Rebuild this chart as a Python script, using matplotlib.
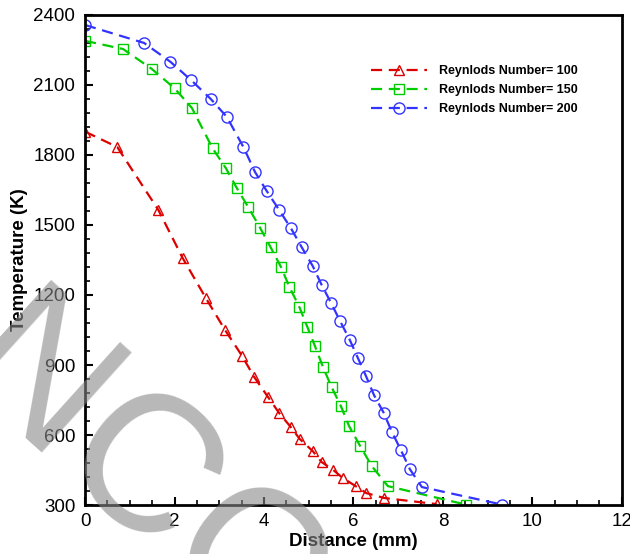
import matplotlib
matplotlib.use('Agg')
import matplotlib.pyplot as plt
from matplotlib.ticker import MultipleLocator

plt.rcParams['font.family'] = ['Liberation Sans', 'DejaVu Sans']

# Reynolds 100
x_re100 = [0, 0.72, 1.64, 2.18, 2.70, 3.13, 3.51, 3.78, 4.09, 4.34, 4.60, 4.80,
           5.09, 5.29, 5.55, 5.76, 6.05, 6.29, 6.69, 7.86]
t_re100 = [1900, 1834, 1564, 1359, 1187, 1050, 939, 849, 763, 694, 634, 583,
           531, 484, 450, 416, 381, 351, 330, 304]

# Reynolds 150
x_re150 = [0, 0.85, 1.49, 2.00, 2.39, 2.85, 3.15, 3.39, 3.65, 3.91, 4.15, 4.38,
           4.57, 4.79, 4.97, 5.14, 5.32, 5.51, 5.72, 5.90, 6.15, 6.41, 6.77, 8.51]
t_re150 = [2289, 2254, 2169, 2086, 2001, 1829, 1743, 1659, 1576, 1489, 1404, 1320,
           1234, 1149, 1063, 981, 891, 806, 724, 639, 553, 467, 381, 302]

# Reynolds 200
x_re200 = [0, 1.32, 1.91, 2.37, 2.81, 3.17, 3.54, 3.80, 4.06, 4.34, 4.60, 4.84,
           5.09, 5.29, 5.50, 5.70, 5.92, 6.10, 6.28, 6.46, 6.68, 6.86, 7.06, 7.26,
           7.53, 9.32]
t_re200 = [2357, 2280, 2199, 2121, 2040, 1963, 1834, 1727, 1646, 1564, 1487, 1406,
           1324, 1243, 1166, 1089, 1007, 930, 853, 771, 694, 613, 536, 454,
           377, 302]

series = [
    (x_re100, t_re100, 'Reynlods Number= 100', '#dd0000', '^'),
    (x_re150, t_re150, 'Reynlods Number= 150', '#00cc00', 's'),
    (x_re200, t_re200, 'Reynlods Number= 200', '#3333ff', 'o'),
]

fig = plt.figure(figsize=(6.3, 5.54), dpi=100)
ax = fig.add_axes([0.135, 0.0884, 0.852, 0.8846])

for xs, ys, lab, col, mk in series:
    ax.plot(xs, ys, color=col, lw=1.6, dashes=(5, 3), marker=mk,
            markersize=8 if mk == 'o' else 7, markerfacecolor='none',
            markeredgecolor=col, markeredgewidth=1.0, label=lab)

ax.set_xlim(0, 12)
ax.set_ylim(300, 2400)
ax.xaxis.set_major_locator(MultipleLocator(2))
ax.xaxis.set_minor_locator(MultipleLocator(0.5))
ax.yaxis.set_major_locator(MultipleLocator(300))
ax.yaxis.set_minor_locator(MultipleLocator(60))
ax.tick_params(which='both', direction='in', top=False, right=False,
               labelsize=13.5, width=1.5)
ax.tick_params(axis='y', pad=7)
ax.tick_params(axis='x', pad=6)
ax.tick_params(which='major', length=6)
ax.tick_params(which='minor', length=3.5, width=1.2)
for sp in ax.spines.values():
    sp.set_linewidth(2)

ax.set_xlabel('Distance (mm)', fontsize=13.5, fontweight='bold', labelpad=2)
ax.set_ylabel('Temperature (K)', fontsize=13.5, fontweight='bold', labelpad=4)

leg = ax.legend(loc='upper left', bbox_to_anchor=(0.533, 0.897), frameon=False,
                fontsize=9, handlelength=4.5, handletextpad=0.9,
                labelspacing=0.55, borderpad=0, borderaxespad=0)
for t in leg.get_texts():
    t.set_fontweight('bold')

# grey watermark letters over the plot
fig.text(-0.089, 0.315, 'NCC', fontsize=140, color='#888888', alpha=0.6,
         rotation=-42, rotation_mode='anchor', ha='left', va='baseline',
         zorder=10)

fig.savefig('out.png', dpi=100)
